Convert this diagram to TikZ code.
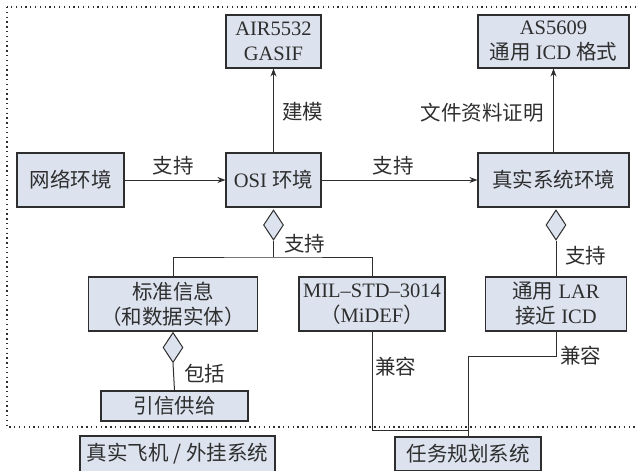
\documentclass[tikz,border=0pt]{standalone}
\usepackage{fontspec}
\setmainfont{Liberation Serif}
\newfontfamily\cjk{Noto Sans CJK SC}
\usetikzlibrary{arrows.meta,shapes.geometric}
\definecolor{boxfill}{HTML}{DCE3EF}
\definecolor{ink}{HTML}{2E2E2E}
\newcommand{\zh}[1]{{\cjk #1}}
\begin{document}
\begin{tikzpicture}[x=1pt,y=-1pt,
  font=\fontsize{20.5}{25}\selectfont, text=ink,
  box/.style={draw=ink, line width=1.1pt, fill=boxfill, inner sep=0pt, align=center},
  dia/.style={diamond, draw=ink, fill=boxfill, line width=1pt, minimum width=20pt, minimum height=30pt, inner sep=0pt},
  conn/.style={draw=ink, line width=1pt},
  arr/.style={conn, -{Stealth[length=8pt,width=6pt]}},
  lbl/.style={inner sep=0pt, font=\fontsize{20.5}{25}\selectfont\cjk}
]
\clip (0,0) rectangle (637,471);
% dotted frame
\draw[ink, line width=1.1pt, dash pattern=on 1.3pt off 3.5pt] (7,7) rectangle (660,427);

% nodes
\node[box, minimum width=95pt, minimum height=53pt] (air) at (273.5,41.5) {AIR5532\\GASIF};
\node[box, minimum width=151pt, minimum height=53pt] (as) at (553.5,41.5) {AS5609\\\zh{通用} ICD \zh{格式}};
\node[box, minimum width=107pt, minimum height=54pt] (net) at (70.5,180) {\zh{网络环境}};
\node[box, minimum width=95pt, minimum height=54pt] (osi) at (273.5,180) {OSI \zh{环境}};
\node[box, minimum width=151pt, minimum height=54pt] (real) at (553.5,180) {\zh{真实系统环境}};
\node[dia] (d1) at (273.5,225) {};
\node[dia] (d2) at (556,225) {};
\node[box, minimum width=169pt, minimum height=54pt] (std) at (173,304) {\zh{标准信息}\\\zh{（和数据实体）}};
\node[box, minimum width=146pt, minimum height=54pt] (mil) at (372,304) {MIL–STD–3014\\\zh{（}MiDEF\zh{）}};
\node[box, minimum width=141pt, minimum height=54pt] (lar) at (556,304) {\zh{通用} LAR\\\zh{接近} ICD};
\node[dia] (d3) at (173,347.5) {};
\node[box, minimum width=147pt, minimum height=30pt] (fuze) at (174.5,406) {\zh{引信供给}};
\node[box, minimum width=195pt, minimum height=36pt] (plane) at (177.5,454) {\zh{真实飞机 / 外挂系统}};

\coordinate (j1) at (273.5,257);
\coordinate (j2) at (556,356);
\coordinate (j3) at (468,430);
\coordinate (tk) at (468,454);

% connectors
\draw[arr] (net) -- (osi);
\draw[arr] (osi) -- (real);
\draw[arr] (osi) -- (air);
\draw[arr] (real) -- (as);
\draw[conn] (d1.south) -- (j1);
\draw[conn] (std.north) |- (j1) -| (mil.north);
\draw[conn] (d2.south) -- (lar.north);
\draw[conn] (d3.south) -- (fuze.north);
\draw[conn] (mil.south) |- (j3);

\node[box, minimum width=146pt, minimum height=34pt] (task) at (tk) {\zh{任务规划系统}};
\draw[conn] (lar.south) -- (j2) -| (task.north);

% labels
\node[lbl] (l1) at (173,166) {支持};
\node[lbl] (l2) at (393,166) {支持};
\node[lbl, anchor=west] (l3) at (282,112) {建模};
\node[lbl, anchor=east] (l4) at (544,113) {文件资料证明};
\node[lbl, anchor=west] (l5) at (284,244) {支持};
\node[lbl, anchor=west] (l6) at (565,256) {支持};
\node[lbl, anchor=west] (l7) at (184,374) {包括};
\node[lbl, anchor=west] (l8) at (375,367) {兼容};
\node[lbl, anchor=west] (l9) at (560,356) {兼容};
\end{tikzpicture}
\end{document}
